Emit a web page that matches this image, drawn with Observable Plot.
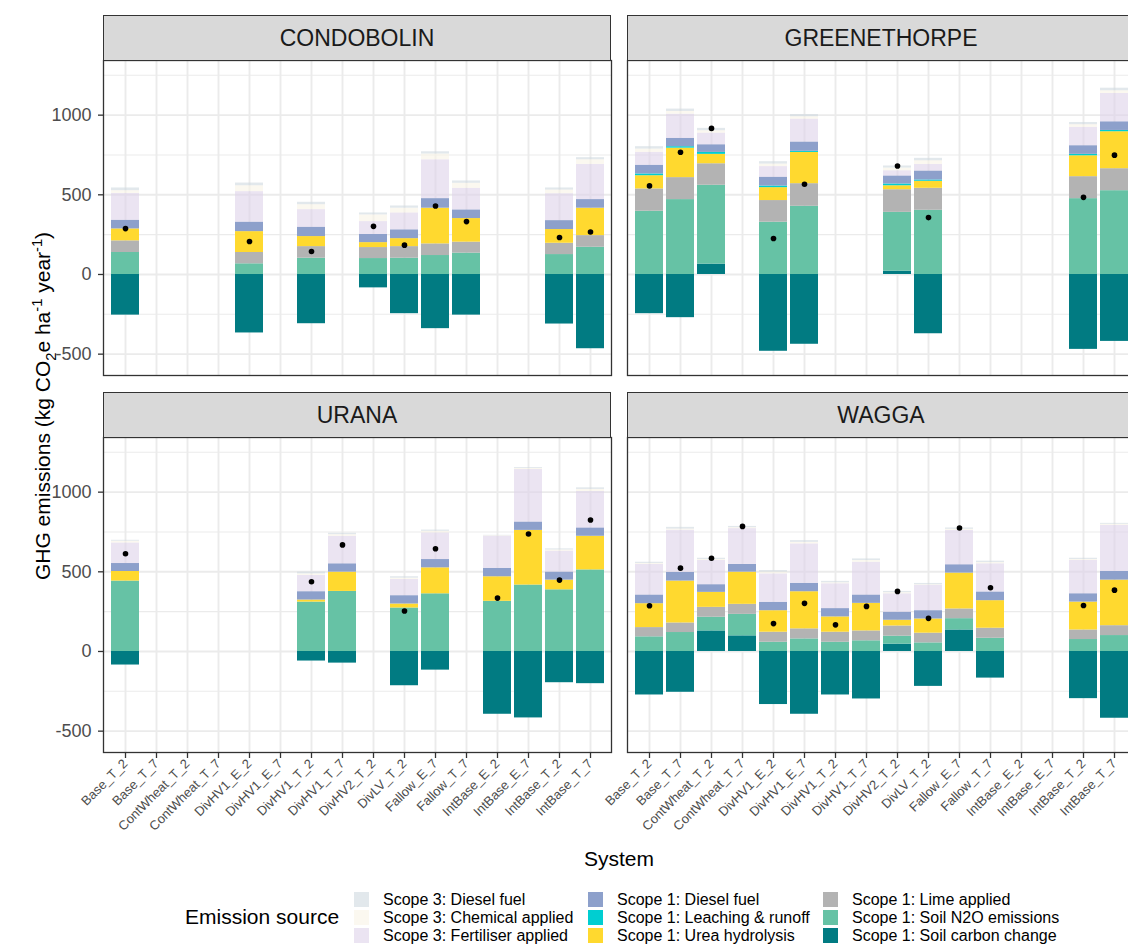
<!DOCTYPE html>
<html><head><meta charset="utf-8">
<script src="https://cdn.jsdelivr.net/npm/d3@7"></script>
<script src="https://cdn.jsdelivr.net/npm/@observablehq/plot@0.6"></script>
<style>
body{margin:0;background:#fff;overflow:hidden;font-family:"Liberation Sans",Arial,sans-serif;}
#fig{position:relative;width:1128px;height:945px;overflow:hidden;background:#fff;}
.strip{position:absolute;box-sizing:border-box;background:#d9d9d9;border:1.3px solid #333;display:flex;align-items:center;justify-content:center;font-size:23px;color:#1a1a1a;}
.panel{position:absolute;}
.title{position:absolute;white-space:nowrap;font-size:21px;color:#000;}
.lg-sw{position:absolute;width:15px;height:15px;}
.lg-tx{position:absolute;font-size:16px;color:#000;white-space:nowrap;line-height:15px;}
sub,sup{font-size:70%;}
</style></head><body><div id="fig"></div>
<script>
const systems = ["Base_T_2","Base_T_7","ContWheat_T_2","ContWheat_T_7","DivHV1_E_2","DivHV1_E_7","DivHV1_T_2","DivHV1_T_7","DivHV2_T_2","DivLV_T_2","Fallow_E_7","Fallow_T_7","IntBase_E_2","IntBase_E_7","IntBase_T_2","IntBase_T_7"];
// stacking order, bottom to top
const sources = ["Scope 1: Soil carbon change","Scope 1: Soil N2O emissions","Scope 1: Lime applied","Scope 1: Urea hydrolysis","Scope 1: Leaching & runoff","Scope 1: Diesel fuel","Scope 3: Fertiliser applied","Scope 3: Chemical applied","Scope 3: Diesel fuel"];
const sourceColors = ["#017b82","#66c2a5","#b3b3b3","#ffd92f","#00ced1","#8da0cb","#ded2e9","#f8f3e6","#cfd9df"];
const sourceOpacity = [1,1,1,1,1,1,0.6,0.6,0.6];
const legendOrder = ["Scope 3: Diesel fuel","Scope 3: Chemical applied","Scope 3: Fertiliser applied","Scope 1: Diesel fuel","Scope 1: Leaching & runoff","Scope 1: Urea hydrolysis","Scope 1: Lime applied","Scope 1: Soil N2O emissions","Scope 1: Soil carbon change"];
const yMajor = [-500,0,500,1000];
const yMinor = [-250,250,750,1250];
const n = null;
// rows follow `sources`, columns follow `systems` (kg CO2e/ha/yr)
const condobolin = [
  [-255,n,n,n,-367,n,-309,n,-84,-246,-340,-255,n,n,-311,-466],
  [138,n,n,n,67,n,102,n,100,102,119,134,n,n,125,171],
  [73,n,n,n,71,n,73,n,69,73,73,69,n,n,71,73],
  [75,n,n,n,131,n,63,n,31,50,224,148,n,n,86,172],
  [0,n,n,n,0,n,0,n,0,0,0,0,n,n,0,0],
  [54,n,n,n,59,n,58,n,51,55,60,54,n,n,56,54],
  [169,n,n,n,192,n,111,n,81,106,244,136,n,n,169,221],
  [17,n,n,n,37,n,31,n,42,30,36,31,n,n,23,29],
  [17,n,n,n,17,n,15,n,12,14,14,15,n,n,13,13]
];
const greenethorpe = [
  [-246,-271,65,n,-482,-438,n,n,21,-372,n,n,n,n,-470,-420],
  [397,470,495,n,328,428,n,n,369,403,n,n,n,n,476,526],
  [140,138,135,n,136,142,n,n,142,138,n,n,n,n,138,138],
  [83,185,59,n,81,196,n,n,25,44,n,n,n,n,131,232],
  [11,9,12,n,10,7,n,n,11,8,n,n,n,n,9,8],
  [54,52,48,n,55,58,n,n,50,56,n,n,n,n,54,54],
  [81,152,73,n,67,144,n,n,33,42,n,n,n,n,115,178],
  [21,17,15,n,16,15,n,n,17,23,n,n,n,n,17,17],
  [15,15,15,n,15,14,n,n,13,15,n,n,n,n,14,16]
];
const urana = [
  [-85,n,n,n,n,n,-60,-73,n,-215,-117,n,-394,-417,-196,-202],
  [442,n,n,n,n,n,310,377,n,273,362,n,315,417,387,512],
  [0,n,n,n,n,n,0,0,n,0,0,n,0,0,0,0],
  [60,n,n,n,n,n,13,121,n,25,163,n,154,343,61,211],
  [0,n,n,n,n,n,0,0,n,0,0,n,0,0,0,0],
  [50,n,n,n,n,n,52,52,n,52,52,n,52,52,50,52],
  [129,n,n,n,n,n,102,173,n,102,167,n,202,330,131,229],
  [11,n,n,n,n,n,10,10,n,8,10,n,3,6,8,13],
  [6,n,n,n,n,n,11,9,n,9,8,n,3,6,7,10]
];
const wagga = [
  [-273,-256,129,98,-333,-394,-273,-298,46,-219,135,-167,n,n,-296,-419],
  [92,119,86,135,58,79,58,67,50,54,71,83,n,n,75,100],
  [58,60,62,63,63,63,63,62,64,61,61,63,n,n,60,62],
  [150,263,94,202,135,233,96,173,36,89,225,173,n,n,175,286],
  [0,0,0,0,0,0,0,0,0,0,0,0,n,n,0,0],
  [54,54,48,48,52,52,52,52,50,52,52,54,n,n,52,54],
  [192,265,152,225,179,248,156,206,116,159,216,177,n,n,209,290],
  [6,7,6,6,11,10,6,11,7,4,7,8,n,n,6,6],
  [8,11,8,8,10,11,9,10,8,8,8,9,n,n,8,6]
];
const siteNames = ["CONDOBOLIN","GREENETHORPE","URANA","WAGGA"];
const siteRows = [condobolin, greenethorpe, urana, wagga];

const fig = document.getElementById("fig");
const PW = 508, PH = 315;
const layout = [
  {left:103, top:60, showY:true, showX:false},
  {left:627, top:60, showY:false, showX:false},
  {left:103, top:437, showY:true, showX:true},
  {left:627, top:437, showY:false, showX:true}
];
const opacityOf = Object.fromEntries(sources.map((s,i)=>[s, sourceOpacity[i]]));

siteNames.forEach((site, k) => {
  const L = layout[k];
  const rows = siteRows[k];
  const data = [];
  sources.forEach((s, i) => rows[i].forEach((v, j) => {
    if (v != null && v !== 0) data.push({system: systems[j], source: s, value: v});
  }));
  const marks = [
    Plot.ruleY(yMinor, {stroke:"#ebebeb", strokeWidth:1.1}),
    Plot.ruleY(yMajor, {stroke:"#ebebeb", strokeWidth:1.9}),
    Plot.ruleX(systems, {stroke:"#ebebeb", strokeWidth:1.9}),
    Plot.barY(data, {x:"system", y:"value", fill:"source", fillOpacity: d => opacityOf[d.source]}),
    Plot.dot(data, Plot.groupX({y:"sum"}, {x:"system", y:"value", fill:"black", r:2.8})),
    Plot.frame({stroke:"#333", strokeWidth:1.3})
  ];
  if (L.showY) marks.push(Plot.axisY({ticks:yMajor, tickFormat:d => String(d), tickSize:5, tickPadding:7, fontSize:18, fill:"#4d4d4d", stroke:"#333", strokeWidth:1.3, label:null}));
  if (L.showX) marks.push(Plot.axisX({tickRotate:-45, tickSize:6, tickPadding:3, fontSize:13, fill:"#4d4d4d", stroke:"#333", strokeWidth:1.3, label:null}));
  const xOpt = {domain:systems, paddingInner:0.1, paddingOuter:0.15};
  const yOpt = {domain:[-634,1343]};
  if (!L.showX) xOpt.axis = null;
  if (!L.showY) yOpt.axis = null;
  const svg = Plot.plot({
    width:PW, height:PH, marginTop:0, marginRight:0, marginBottom:0, marginLeft:0,
    x:xOpt, y:yOpt,
    color:{domain:sources, range:sourceColors},
    opacity:{domain:[0,1], range:[0,1]},
    style:{overflow:"visible", background:"transparent", fontFamily:"Liberation Sans, Arial, sans-serif"},
    marks
  });
  svg.classList.add("panel");
  svg.style.left = L.left + "px";
  svg.style.top = L.top + "px";
  svg.style.position = "absolute";
  fig.appendChild(svg);
  const strip = document.createElement("div");
  strip.className = "strip";
  strip.style.left = L.left + "px";
  strip.style.top = (L.top - 45) + "px";
  strip.style.width = PW + "px";
  strip.style.height = "46px";
  strip.textContent = site;
  fig.appendChild(strip);
});

// axis titles
const yt = document.createElement("div");
yt.className = "title";
yt.style.left = "44px"; yt.style.top = "406px";
yt.style.transform = "translate(-50%,-50%) rotate(-90deg)";
yt.innerHTML = "GHG emissions (kg CO<sub>2</sub>e ha<sup>-1</sup> year<sup>-1</sup>)";
fig.appendChild(yt);
const xt = document.createElement("div");
xt.className = "title";
xt.style.left = "619px"; xt.style.top = "859px";
xt.style.transform = "translate(-50%,-50%)";
xt.textContent = "System";
fig.appendChild(xt);

// legend
const lt = document.createElement("div");
lt.className = "title";
lt.style.left = "185px"; lt.style.top = "917px";
lt.style.transform = "translate(0,-50%)";
lt.textContent = "Emission source";
fig.appendChild(lt);
const colX = [354, 588, 823], rowY = [892, 910, 928];
legendOrder.forEach((s, i) => {
  const c = Math.floor(i / 3), r = i % 3;
  const idx = sources.indexOf(s);
  const sw = document.createElement("div");
  sw.className = "lg-sw";
  sw.style.left = colX[c] + "px"; sw.style.top = rowY[r] + "px";
  sw.style.background = sourceColors[idx];
  sw.style.opacity = sourceOpacity[idx];
  fig.appendChild(sw);
  const tx = document.createElement("div");
  tx.className = "lg-tx";
  tx.style.left = (colX[c] + 29) + "px"; tx.style.top = rowY[r] + "px";
  tx.textContent = s;
  fig.appendChild(tx);
});
</script></body></html>
